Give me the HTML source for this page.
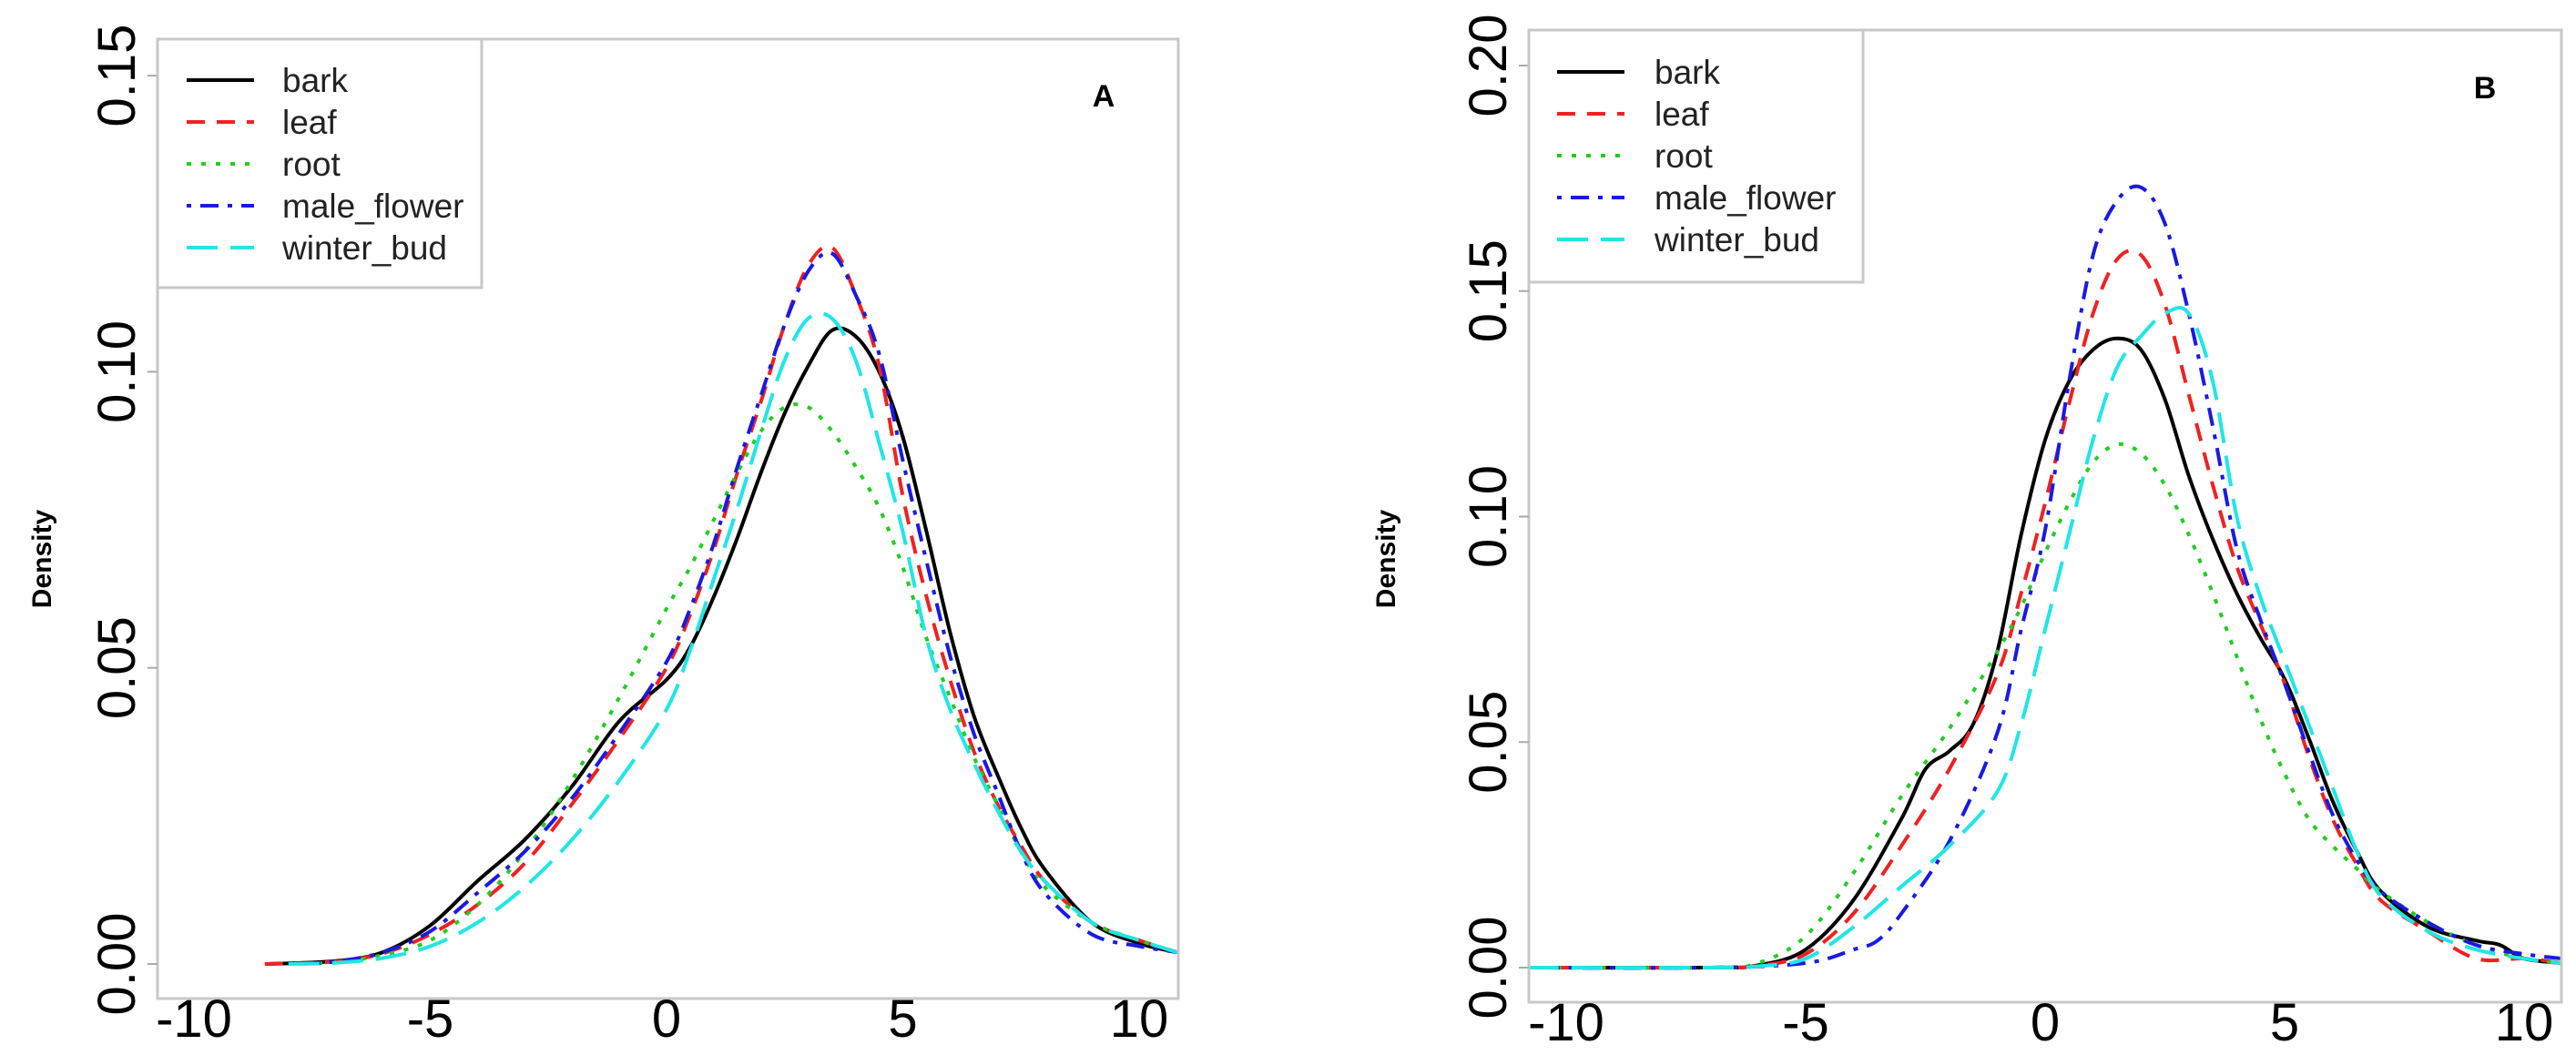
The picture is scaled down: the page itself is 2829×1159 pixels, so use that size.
<!DOCTYPE html>
<html><head><meta charset="utf-8">
<style>
html,body{margin:0;padding:0;background:#fff;}
svg{display:block;}
text{font-family:"Liberation Sans",sans-serif;}
</style></head>
<body>
<svg id="chart" width="2829" height="1159" viewBox="0 0 2829 1159" xmlns="http://www.w3.org/2000/svg"></svg>
<script>
// ---- Data (x, density) ----
const seriesNames = ["bark","leaf","root","male_flower","winter_bud"];
const xTicks = [-10,-5,0,5,10];
const yTicksA = [0,0.05,0.10,0.15];
const yTicksB = [0,0.05,0.10,0.15,0.20];
const yTickLabelsA = ["0.00","0.05","0.10","0.15"];
const yTickLabelsB = ["0.00","0.05","0.10","0.15","0.20"];

const aBark = [[-8.5,0],[-7,0.0005],[-6,0.002],[-5,0.0065],[-4,0.014],[-3,0.021],[-2,0.030],[-1,0.041],[0,0.048],[0.5,0.0535],[1,0.062],[1.5,0.072],[2,0.083],[2.5,0.093],[3,0.101],[3.5,0.1070],[4,0.106],[4.5,0.100],[5,0.089],[5.5,0.073],[6,0.056],[6.5,0.042],[7,0.032],[7.5,0.023],[8,0.016],[9,0.007],[10,0.0035],[10.8,0.002]];
const aLeaf = [[-8.5,0],[-7,0.0004],[-6,0.0018],[-5,0.005],[-4,0.010],[-3,0.017],[-2,0.027],[-1,0.038],[0,0.050],[0.5,0.059],[1,0.070],[1.5,0.083],[2,0.095],[2.5,0.108],[3,0.118],[3.5,0.1210],[4,0.113],[4.5,0.101],[5,0.079],[5.5,0.062],[6,0.048],[6.5,0.036],[7,0.027],[7.5,0.020],[8,0.014],[9,0.007],[10,0.004],[10.8,0.002]];
const aRoot = [[-8,0],[-7,0.0003],[-6,0.0015],[-5,0.004],[-4,0.010],[-3,0.019],[-2,0.031],[-1,0.045],[0,0.060],[0.5,0.067],[1,0.075],[1.5,0.083],[2,0.090],[2.5,0.094],[3,0.094],[3.5,0.090],[4,0.084],[4.5,0.077],[5,0.067],[5.5,0.055],[6,0.045],[6.5,0.035],[7,0.027],[7.5,0.019],[8,0.013],[9,0.007],[10,0.004],[10.8,0.002]];
const aMale = [[-8,0],[-7,0.0004],[-6,0.002],[-5,0.0055],[-4,0.012],[-3,0.019],[-2,0.028],[-1,0.039],[0,0.051],[0.5,0.060],[1,0.071],[1.5,0.084],[2,0.096],[2.5,0.108],[3,0.117],[3.5,0.120],[4,0.113],[4.5,0.103],[5,0.085],[5.5,0.068],[6,0.052],[6.5,0.039],[7,0.029],[7.5,0.019],[8,0.012],[9,0.005],[10,0.003],[10.8,0.002]];
const aWinter = [[-8,0],[-7,0.0002],[-6,0.001],[-5,0.003],[-4,0.007],[-3,0.013],[-2,0.021],[-1,0.031],[0,0.043],[0.5,0.053],[1,0.065],[1.5,0.077],[2,0.090],[2.5,0.102],[3,0.109],[3.5,0.109],[4,0.102],[4.5,0.088],[5,0.073],[5.5,0.055],[6,0.043],[6.5,0.034],[7,0.026],[7.5,0.019],[8,0.014],[9,0.007],[10,0.004],[10.8,0.002]];

const bBark = [[-10.8,0],[-7,0],[-6,0.0005],[-5,0.004],[-4,0.015],[-3,0.033],[-2.5,0.044],[-2,0.048],[-1.5,0.054],[-1,0.070],[-0.5,0.096],[0,0.117],[0.5,0.130],[1,0.137],[1.5,0.1395],[2,0.137],[2.5,0.126],[3,0.109],[3.5,0.095],[4,0.083],[4.5,0.073],[5,0.064],[5.5,0.051],[6,0.037],[6.5,0.026],[7,0.017],[8,0.009],[9,0.006],[9.5,0.005],[10,0.002],[10.8,0.001]];
const bLeaf = [[-10.8,0],[-7,0],[-6,0.0004],[-5,0.003],[-4,0.012],[-3,0.027],[-2,0.044],[-1,0.065],[-0.5,0.083],[0,0.103],[0.5,0.125],[1,0.145],[1.5,0.157],[2,0.158],[2.5,0.147],[3,0.127],[3.5,0.107],[4,0.089],[4.5,0.076],[5,0.063],[5.5,0.047],[6,0.033],[6.5,0.023],[7,0.015],[8,0.008],[9,0.002],[10,0.002],[10.8,0.001]];
const bRoot = [[-10.8,0],[-7,0],[-6,0.001],[-5,0.007],[-4,0.021],[-3,0.038],[-2,0.053],[-1,0.070],[-0.5,0.080],[0,0.092],[0.5,0.103],[1,0.112],[1.5,0.116],[2,0.114],[2.5,0.107],[3,0.096],[3.5,0.083],[4,0.069],[4.5,0.055],[5,0.043],[5.5,0.033],[6,0.027],[6.5,0.022],[7,0.017],[8,0.010],[9,0.005],[10,0.002],[10.8,0.001]];
const bMale = [[-10.8,0],[-7,0],[-5,0.001],[-4,0.004],[-3.5,0.006],[-3,0.012],[-2,0.028],[-1,0.052],[-0.5,0.075],[0,0.097],[0.5,0.130],[1,0.158],[1.5,0.170],[2,0.173],[2.5,0.165],[3,0.145],[3.5,0.120],[4,0.093],[4.5,0.077],[5,0.063],[5.5,0.048],[6,0.034],[6.5,0.024],[7,0.017],[8,0.010],[9,0.005],[10,0.003],[10.8,0.002]];
const bWinter = [[-10.8,0],[-7,0],[-6,0.0003],[-5,0.002],[-4,0.009],[-3,0.018],[-2,0.027],[-1,0.039],[-0.5,0.054],[0,0.075],[0.5,0.096],[1,0.117],[1.5,0.133],[2,0.140],[2.5,0.145],[3,0.145],[3.5,0.130],[4,0.100],[4.5,0.082],[5,0.068],[5.5,0.054],[6,0.040],[6.5,0.026],[7,0.016],[8,0.008],[9,0.004],[10,0.002],[10.8,0.001]];

const NS = "http://www.w3.org/2000/svg";
const svg = document.getElementById("chart");
const colors = ["#000000","#ee2222","#22cc22","#1a1adf","#22e5e5"];
const dashes = ["", "20 13", "5 11", "5 10 20 10", "34 14"];

function mk(tag, attrs, parent){
  const e = document.createElementNS(NS, tag);
  for (const k in attrs) e.setAttribute(k, attrs[k]);
  (parent||svg).appendChild(e);
  return e;
}

function smoothPath(pts){
  let d = "M" + pts[0][0].toFixed(1) + "," + pts[0][1].toFixed(1);
  for (let i=0;i<pts.length-1;i++){
    const p0 = pts[Math.max(0,i-1)], p1 = pts[i], p2 = pts[i+1], p3 = pts[Math.min(pts.length-1,i+2)];
    const c1x = p1[0]+(p2[0]-p0[0])/6, c1y = p1[1]+(p2[1]-p0[1])/6;
    const c2x = p2[0]-(p3[0]-p1[0])/6, c2y = p2[1]-(p3[1]-p1[1])/6;
    d += " C"+c1x.toFixed(1)+","+c1y.toFixed(1)+" "+c2x.toFixed(1)+","+c2y.toFixed(1)+" "+p2[0].toFixed(1)+","+p2[1].toFixed(1);
  }
  return d;
}

function panel(cfg){
  const g = mk("g", {});
  
  
  const xs = v => cfg.x0 + v*cfg.xu;
  const ys = v => cfg.y0 - v*cfg.yu;
  const clipId = cfg.name + "-clip";
  const cp = mk("clipPath", {id: clipId}, g);
  mk("rect", {x: cfg.left, y: cfg.top, width: cfg.right-cfg.left, height: cfg.bottom-cfg.top}, cp);

  const cg = mk("g", {"clip-path": "url(#"+clipId+")"}, g);
  cfg.series.forEach((s, i) => {
    const pts = s.map(p => [xs(p[0]), ys(p[1])]);
    const path = mk("path", {d: smoothPath(pts), fill: "none", stroke: colors[i], "stroke-width": 4, "stroke-dasharray": dashes[i] || "none", "stroke-linecap": "butt"}, cg);
    
    
  });

  const box = mk("rect", {x: cfg.left, y: cfg.top, width: cfg.right-cfg.left, height: cfg.bottom-cfg.top, fill: "none", stroke: "#c8c8c8", "stroke-width": 3}, g);
  
  

  xTicks.forEach(v => {
    const t = mk("text", {x: xs(v), y: cfg.bottom + 42, "font-size": 58, "text-anchor": "middle", fill: "#000"}, g);
    t.textContent = String(v);
    
    
  });
  cfg.yTicks.forEach((v, i) => {
    const y = ys(v);
    const tk = mk("line", {x1: cfg.left-11, x2: cfg.left, y1: y, y2: y, stroke: "#aaa", "stroke-width": 2}, g);
    
    
    const t = mk("text", {x: 0, y: 0, "font-size": 58, "text-anchor": "middle", fill: "#000", transform: "translate(" + (cfg.left-25) + "," + y + ") rotate(-90)"}, g);
    t.textContent = cfg.yLabels[i];
    
    
  });
  const yt = mk("text", {x: 0, y: 0, "font-size": 30, "font-weight": "bold", "text-anchor": "middle", fill: "#000", transform: "translate(" + cfg.ytX + "," + cfg.ytY + ") rotate(-90)"}, g);
  yt.textContent = "Density";
  
  
  const pl = mk("text", {x: cfg.letterX, y: cfg.letterY, "font-size": 34, "font-weight": "bold", "text-anchor": "middle", fill: "#000"}, g);
  pl.textContent = cfg.letter;
  
  

  const lg = mk("g", {}, g);
  
  
  mk("rect", {x: cfg.left, y: cfg.top, width: cfg.legW, height: cfg.legH, fill: "#fff", stroke: "#c8c8c8", "stroke-width": 3}, lg);
  seriesNames.forEach((n, i) => {
    const y = cfg.legY0 + i*cfg.legDy;
    const e = mk("g", {}, lg);
    
    
    mk("line", {x1: cfg.legLx, x2: cfg.legLx+74, y1: y, y2: y, stroke: colors[i], "stroke-width": 4, "stroke-dasharray": dashes[i] || "none"}, e);
    const t = mk("text", {x: cfg.legTx, y: y + 13, "font-size": 37, fill: "#222"}, e);
    t.textContent = n;
  });
}

panel({name: "panel-a", left: 173, right: 1294, top: 43, bottom: 1097,
  x0: 732, xu: 51.9, y0: 1059, yu: 6506,
  yTicks: yTicksA, yLabels: yTickLabelsA,
  series: [aBark, aLeaf, aRoot, aMale, aWinter],
  ytX: 56, ytY: 614, letter: "A", letterX: 1212, letterY: 117,
  legW: 356, legH: 273, legY0: 88, legDy: 46, legLx: 205, legTx: 310});

panel({name: "panel-b", left: 1679, right: 2813, top: 33, bottom: 1101,
  x0: 2246, xu: 52.6, y0: 1063, yu: 4955,
  yTicks: yTicksB, yLabels: yTickLabelsB,
  series: [bBark, bLeaf, bRoot, bMale, bWinter],
  ytX: 1532, ytY: 614, letter: "B", letterX: 2729, letterY: 108,
  legW: 367, legH: 277, legY0: 79, legDy: 46, legLx: 1710, legTx: 1817});
</script>
</body></html>
